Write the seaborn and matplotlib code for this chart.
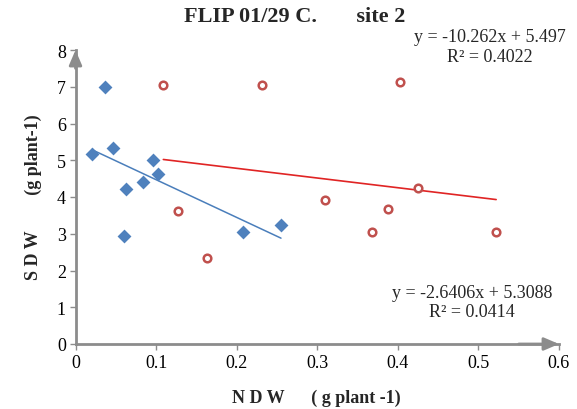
import numpy as np
import pandas as pd
import matplotlib
matplotlib.use("Agg")
import matplotlib.pyplot as plt
import seaborn as sns

# values
blue_x = [0.020, 0.036, 0.047, 0.060, 0.063, 0.084, 0.096, 0.102, 0.208, 0.255]
blue_y = [5.18, 7.00, 5.33, 2.95, 4.21, 4.41, 5.02, 4.62, 3.06, 3.23]
red_x = [0.109, 0.127, 0.163, 0.232, 0.309, 0.368, 0.388, 0.403, 0.425, 0.522]
red_y = [7.05, 3.61, 2.34, 7.05, 3.93, 3.06, 3.66, 7.13, 4.25, 3.06]

# trendline equations printed on the chart
blue_fit = (-10.262, 5.497, 0.4022)
red_fit = (-2.6406, 5.3088, 0.0414)

x_ticks = [0, 0.1, 0.2, 0.3, 0.4, 0.5, 0.6]
y_ticks = [0, 1, 2, 3, 4, 5, 6, 7, 8]

sns.set_theme(style="white")
plt.rcParams['font.family'] = ['Liberation Serif', 'DejaVu Serif']

W, H = 577, 410
fig = plt.figure(figsize=(W / 100, H / 100), dpi=100)
ax = fig.add_axes([75.5 / W, 1 - 345 / H, (559 - 75.5) / W, (345 - 51) / H])

blue = "#4F81BD"
red = "#C0504D"
axis_grey = "#8C8C8C"

df_b = pd.DataFrame({"x": blue_x, "y": blue_y})
df_r = pd.DataFrame({"x": red_x, "y": red_y})

sns.scatterplot(data=df_b, x="x", y="y", marker="D", s=50, color=blue,
                edgecolor=blue, linewidth=0, ax=ax, zorder=3)
sns.scatterplot(data=df_r, x="x", y="y", marker="o", s=30, facecolor="white",
                edgecolor=red, linewidth=1.8, ax=ax, zorder=3)

# trendlines from the printed equations, over each series' x range
bx = np.array([min(blue_x), max(blue_x)])
rx = np.array([min(red_x), max(red_x)])
sns.lineplot(x=bx, y=blue_fit[0] * bx + blue_fit[1], color="#4A7EBB", lw=1.1, ax=ax)
sns.lineplot(x=rx, y=red_fit[0] * rx + red_fit[1], color="#E02424", lw=1.2, ax=ax)

ax.set_xlim(0, 0.6)
ax.set_ylim(0, 8)
ax.set_xticks(x_ticks)
ax.set_xticklabels(["0", "0.1", "0.2", "0.3", "0.4", "0.5", "0.6"])
ax.set_yticks(y_ticks)
ax.set_xlabel("")
ax.set_ylabel("")
ax.tick_params(axis="both", labelsize=13, colors="black", length=4, width=1,
               color=axis_grey, pad=3)
ax.tick_params(bottom=True, left=True)

for side in ["top", "right"]:
    ax.spines[side].set_visible(False)
for side in ["left", "bottom"]:
    ax.spines[side].set_color(axis_grey)
    ax.spines[side].set_linewidth(2)

# arrow heads on the axes
arrow = dict(arrowstyle="-|>,head_length=0.75,head_width=0.32", color=axis_grey,
             lw=2, shrinkA=0, shrinkB=0)
ax.annotate("", xy=(0.6, 0), xytext=(0.55, 0), arrowprops=arrow,
            annotation_clip=False)
ax.annotate("", xy=(0, 8), xytext=(0, 7.5), arrowprops=arrow,
            annotation_clip=False)

fig.text(184 / W, 1 - 17 / H, "FLIP 01/29 C.       site 2", ha="left",
         va="center", fontsize=16, fontweight="bold")
fig.text(316 / W, 1 - 398 / H, "N D W      ( g plant -1)", ha="center",
         va="center", fontsize=13, fontweight="bold")
fig.text(33 / W, 1 - 197 / H, "S D W        (g plant-1)", ha="center",
         va="center", rotation=90, fontsize=13, fontweight="bold")

fig.text(490 / W, 1 - 47.5 / H,
         "y = -10.262x + 5.497\nR² = %.4f" % blue_fit[2],
         ha="center", va="center", multialignment="center", fontsize=13)
fig.text(472 / W, 1 - 303 / H,
         "y = -2.6406x + 5.3088\nR² = %.4f" % red_fit[2],
         ha="center", va="center", multialignment="center", fontsize=13)

fig.savefig("out.png", dpi=100)
